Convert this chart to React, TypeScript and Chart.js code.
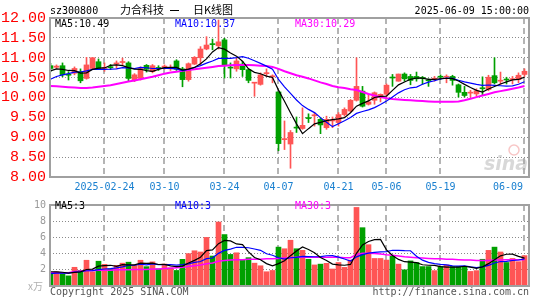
import React, { useEffect, useRef } from 'react';
import { Chart, registerables } from 'chart.js';

Chart.register(...registerables);

// ---------- data ----------
const dates = [
  '02-11','02-12','02-13','02-14','02-17','02-18','02-19','02-20','02-21','02-24',
  '02-25','02-26','02-27','02-28','03-03','03-04','03-05','03-06','03-07','03-10',
  '03-11','03-12','03-13','03-14','03-17','03-18','03-19','03-20','03-21','03-24',
  '03-25','03-26','03-27','03-28','03-31','04-01','04-02','04-03','04-07','04-08',
  '04-09','04-10','04-11','04-14','04-15','04-16','04-17','04-18','04-21','04-22',
  '04-23','04-24','04-25','04-28','04-29','04-30','05-06','05-07','05-08','05-09',
  '05-12','05-13','05-14','05-15','05-16','05-19','05-20','05-21','05-22','05-23',
  '05-26','05-27','05-28','05-29','05-30','06-03','06-04','06-05','06-06','06-09',
];

const openP = [
  10.80,10.76,10.80,10.57,10.61,10.65,10.48,10.73,10.90,10.73,
  10.76,10.84,10.88,10.87,10.44,10.48,10.81,10.65,10.74,10.75,
  10.72,10.92,10.72,10.45,10.84,11.00,11.22,11.35,11.30,11.45,
  10.76,10.72,10.84,10.70,10.36,10.33,10.60,10.52,10.14,8.94,
  8.83,9.25,9.22,9.49,9.54,9.45,9.24,9.41,9.37,9.57,
  9.66,9.93,10.16,9.83,9.93,10.01,10.08,10.50,10.41,10.59,
  10.53,10.53,10.50,10.44,10.46,10.52,10.51,10.53,10.32,10.13,
  10.11,10.09,10.23,10.20,10.55,10.41,10.45,10.45,10.45,10.58,
];
const highP = [
  10.86,10.82,10.87,10.65,10.77,10.72,11.01,11.01,10.97,10.87,
  10.83,10.92,10.99,10.90,10.60,10.77,10.83,10.83,10.80,10.82,
  10.82,10.95,10.76,10.87,11.03,11.28,11.53,11.47,11.95,11.49,
  10.87,10.99,10.91,10.72,10.37,10.62,10.72,10.57,10.14,9.41,
  9.17,9.51,9.74,9.59,9.62,9.49,9.53,9.51,9.62,9.74,
  9.95,11.00,10.28,10.08,10.14,10.09,10.34,10.58,10.59,10.62,
  10.58,10.64,10.53,10.47,10.53,10.57,10.57,10.56,10.34,10.28,
  10.18,10.22,10.52,10.56,11.00,10.64,10.51,10.53,10.62,10.72,
];
const lowP = [
  10.65,10.73,10.52,10.44,10.57,10.37,10.46,10.71,10.70,10.66,
  10.70,10.74,10.82,10.42,10.40,10.44,10.64,10.62,10.68,10.71,
  10.68,10.68,10.27,10.41,10.83,10.82,11.20,11.20,11.22,10.49,
  10.49,10.66,10.53,10.37,10.03,10.31,10.53,10.37,8.66,8.69,
  8.22,9.12,9.20,9.37,9.28,9.09,9.20,9.24,9.28,9.53,
  9.64,9.91,9.76,9.81,9.83,9.89,10.03,10.28,10.41,10.41,
  10.32,10.41,10.33,10.28,10.41,10.45,10.37,10.31,10.01,10.01,
  10.01,10.03,10.06,10.17,10.34,10.33,10.34,10.34,10.37,10.53,
];
const closeP = [
  10.73,10.79,10.57,10.56,10.73,10.42,10.82,11.00,10.73,10.75,
  10.75,10.87,10.90,10.48,10.57,10.73,10.71,10.80,10.73,10.79,
  10.76,10.71,10.45,10.85,11.01,11.22,11.32,11.33,11.40,10.81,
  10.74,10.92,10.70,10.43,10.37,10.57,10.62,10.53,8.84,8.96,
  9.12,9.23,9.30,9.47,9.56,9.31,9.45,9.43,9.57,9.70,
  9.93,10.28,9.78,9.89,10.12,10.08,10.31,10.49,10.59,10.47,
  10.43,10.47,10.48,10.42,10.48,10.51,10.53,10.43,10.13,10.05,
  10.12,10.17,10.22,10.51,10.37,10.43,10.44,10.47,10.56,10.66,
];
// closes of the 9 sessions before the window (for the moving averages)
const priorClose = [10.10,10.18,10.25,10.32,10.40,10.55,10.62,10.70,10.75];

const priceMA30 = [
  10.29,10.28,10.27,10.26,10.25,10.24,10.24,10.25,10.27,10.29,
  10.31,10.34,10.37,10.40,10.43,10.46,10.49,10.52,10.56,10.60,
  10.63,10.65,10.67,10.69,10.71,10.73,10.75,10.77,10.79,10.80,
  10.81,10.82,10.82,10.82,10.81,10.80,10.79,10.77,10.72,10.66,
  10.61,10.56,10.52,10.48,10.43,10.38,10.34,10.29,10.26,10.24,
  10.21,10.19,10.14,10.09,10.05,10.01,9.98,9.96,9.95,9.94,
  9.93,9.92,9.91,9.90,9.89,9.89,9.89,9.89,9.90,9.93,
  9.97,10.01,10.05,10.09,10.13,10.16,10.19,10.22,10.25,10.29,
];

// volume, 万手
const volume = [
  1.53,1.76,1.53,1.25,2.31,1.92,3.18,1.76,3.06,2.67,
  2.12,2.55,2.82,2.94,2.59,3.18,2.39,2.98,2.12,2.71,
  2.24,1.92,3.29,4.00,4.35,4.20,6.00,3.70,7.90,6.35,
  3.90,4.10,3.25,3.50,2.82,2.50,1.76,1.92,4.80,4.60,
  5.65,4.60,4.40,3.30,2.60,2.70,2.80,2.10,2.90,2.30,
  3.20,9.70,7.20,5.10,3.40,3.40,3.20,3.70,2.70,2.00,
  3.10,2.90,2.40,2.40,1.90,2.40,2.60,2.40,2.40,2.40,
  1.80,1.90,3.30,4.40,4.80,4.20,2.90,3.40,3.00,3.75,
];
const priorVolume = [1.2,1.4,1.3,1.2,1.4,1.9,1.7,1.8,1.87];

const volumeMA30 = [
  1.65,1.65,1.65,1.65,1.80,1.85,1.90,1.90,1.95,1.95,
  1.95,2.00,2.00,2.00,2.05,2.05,2.05,2.10,2.10,2.15,
  2.20,2.25,2.30,2.40,2.50,2.60,2.75,2.85,3.05,3.15,
  3.20,3.25,3.25,3.30,3.30,3.30,3.35,3.35,3.40,3.45,
  3.50,3.55,3.55,3.55,3.55,3.55,3.55,3.55,3.55,3.50,
  3.50,3.90,4.05,4.05,4.00,3.95,3.85,3.80,3.70,3.60,
  3.55,3.50,3.45,3.40,3.35,3.35,3.30,3.30,3.25,3.20,
  3.20,3.15,3.15,3.15,3.20,3.20,3.25,3.25,3.25,3.25,
];

const tickDates = ['02-24','03-10','03-24','04-07','04-21','05-06','05-19','06-09'];
const tickLabels = ['2025-02-24','03-10','03-24','04-07','04-21','05-06','05-19','06-09'];
const priceTicks = [8, 8.5, 9, 9.5, 10, 10.5, 11, 11.5, 12];
const volumeTicks = [0, 2, 4, 6, 8, 10];

const stockCode = 'sz300800';
const stockName = '力合科技';
const chartTitle = '日K线图';
const timestamp = '2025-06-09 15:00:00';
const priceMALabels = ['MA5:10.49', 'MA10:10.37', 'MA30:10.29'];
const volumeMALabels = ['MA5:3', 'MA10:3', 'MA30:3'];
const volumeUnit = 'x万';
const copyright = 'Copyright 2025 SINA.COM';
const siteUrl = 'http://finance.sina.com.cn';

// ---------- helpers ----------
const UP = '#ff5555';
const DOWN = '#00a000';
const MA_COLORS = ['#000000', '#0000ff', '#ff00ff'];
const MONO = '"DejaVu Sans Mono", monospace';
const GRID = '#8a8a8a';

function movingAvg(prior: number[], vals: number[], n: number) {
  const all = prior.concat(vals);
  return vals.map((_, i) => {
    const end = prior.length + i;
    let s = 0;
    for (let k = end - n + 1; k <= end; k++) s += all[k];
    return s / n;
  });
}

const X_MIN = -1 / 12;
const X_MAX = X_MIN + 479 / 6;
const tickIdx = tickDates.map((d) => dates.indexOf(d));
const candleColors = closeP.map((c, i) => (c >= openP[i] ? UP : DOWN));
const xy = (arr: number[]) => arr.map((v, i) => ({ x: i, y: v }));

function lineDs(label: string, data: number[], color: string, width: number) {
  return {
    type: 'line' as const,
    label,
    data: xy(data),
    borderColor: color,
    borderWidth: width,
    pointRadius: 0,
    tension: 0,
    fill: false,
    order: 0,
  };
}

function yAxis(min: number, max: number, ticks: number[], tickOpts: any) {
  return {
    type: 'linear',
    min,
    max,
    grid: {
      display: true,
      drawTicks: false,
      lineWidth: 1,
      color: (c: any) =>
        c.tick && (c.tick.value === min || c.tick.value === max) ? 'rgba(0,0,0,0)' : GRID,
    },
    border: { display: false, dash: [1, 2] },
    afterBuildTicks: (s: any) => {
      s.ticks = ticks.map((v) => ({ value: v }));
    },
    afterFit: (s: any) => {
      s.width = 50;
    },
    ticks: { autoSkip: false, padding: 4, ...tickOpts },
  };
}

function framePlugin(drawText: (chart: any) => void) {
  return {
    id: 'sinaFrame',
    beforeDatasetsDraw(chart: any) {
      const { ctx, chartArea: a, scales } = chart;
      ctx.save();
      ctx.setLineDash([6, 4]);
      ctx.lineWidth = 2;
      ctx.strokeStyle = '#b4b4b4';
      for (const i of tickIdx) {
        const x = Math.floor(scales.x.getPixelForValue(i));
        ctx.beginPath();
        ctx.moveTo(x, a.top);
        ctx.lineTo(x, a.bottom);
        ctx.stroke();
      }
      ctx.restore();
    },
    afterDatasetsDraw(chart: any) {
      const { ctx, chartArea: a } = chart;
      ctx.save();
      ctx.strokeStyle = '#a0a0a0';
      ctx.lineWidth = 2;
      ctx.setLineDash([]);
      ctx.strokeRect(a.left, a.top, a.right - a.left, a.bottom - a.top);
      ctx.restore();
    },
    afterDraw(chart: any) {
      chart.ctx.save();
      drawText(chart);
      chart.ctx.restore();
    },
  };
}

export default function App() {
  const priceRef = useRef<HTMLCanvasElement>(null);
  const volRef = useRef<HTMLCanvasElement>(null);

  useEffect(() => {
    document.body.style.margin = '0';
    const ma5 = movingAvg(priorClose, closeP, 5);
    const ma10 = movingAvg(priorClose, closeP, 10);
    const vma5 = movingAvg(priorVolume, volume, 5);
    const vma10 = movingAvg(priorVolume, volume, 10);

    const xScale = {
      type: 'linear' as const,
      min: X_MIN,
      max: X_MAX,
      offset: false,
      display: false,
      grid: { display: false },
    };

    const priceText = (chart: any) => {
      const { ctx, chartArea: a, scales } = chart;
      ctx.textBaseline = 'middle';
      ctx.font = `10px ${MONO}`;
      ctx.fillStyle = '#000';
      ctx.textAlign = 'left';
      ctx.fillText(stockCode, 50, 11);
      ctx.textAlign = 'right';
      ctx.fillText(timestamp, 529, 11);
      ctx.font = '11px "Noto Sans CJK SC"';
      ctx.textAlign = 'left';
      ctx.fillText(stockName, 120, 10);
      ctx.fillText(chartTitle, 193, 10);
      ctx.fillRect(170, 10, 9, 1);
      // MA labels
      ctx.font = `10px ${MONO}`;
      const mx = [55, 175, 295];
      priceMALabels.forEach((t, k) => {
        ctx.fillStyle = MA_COLORS[k];
        ctx.fillText(t, mx[k], 24);
      });
      // date labels
      ctx.fillStyle = '#1a80d0';
      ctx.textAlign = 'center';
      tickIdx.forEach((i, k) => {
        const t = tickLabels[k];
        const w = ctx.measureText(t).width;
        let x = scales.x.getPixelForValue(i);
        x = Math.min(x, a.right - 6 - w / 2);
        x = Math.max(x, a.left + w / 2);
        ctx.fillText(t, x, 187);
      });
      // watermark
      ctx.globalAlpha = 0.45;
      ctx.strokeStyle = '#f08080';
      ctx.lineWidth = 1.5;
      ctx.beginPath();
      ctx.arc(514, 150, 5, 0, Math.PI * 2);
      ctx.stroke();
      ctx.fillStyle = '#a8a8a8';
      ctx.font = 'italic bold 19px "DejaVu Sans"';
      ctx.textAlign = 'left';
      ctx.fillText('sina', 484, 165);
      ctx.globalAlpha = 1;
    };

    const priceChart = new Chart(priceRef.current as HTMLCanvasElement, {
      type: 'bar',
      data: {
        datasets: [
          lineDs('MA5', ma5, MA_COLORS[0], 1.2),
          lineDs('MA10', ma10, MA_COLORS[1], 1.2),
          lineDs('MA30', priceMA30, MA_COLORS[2], 2),
          {
            type: 'bar' as const,
            label: 'body',
            data: openP.map((o, i) => ({ x: i, y: [o, closeP[i]] })) as any,
            backgroundColor: candleColors,
            barThickness: 5,
            grouped: false,
            minBarLength: 1,
            order: 1,
          },
          {
            type: 'bar' as const,
            label: 'wick',
            data: lowP.map((l, i) => ({ x: i, y: [l, highP[i]] })) as any,
            backgroundColor: candleColors,
            barThickness: 1,
            grouped: false,
            order: 2,
          },
        ],
      },
      options: {
        animation: false,
        responsive: false,
        maintainAspectRatio: false,
        events: [],
        layout: { padding: { top: 18, right: 16, bottom: 18, left: 0 } },
        plugins: { legend: { display: false }, tooltip: { enabled: false } },
        scales: {
          x: xScale,
          y: yAxis(8, 12, priceTicks, {
            color: '#ff0000',
            font: { family: 'Liberation Mono', size: 15 },
            callback: (v: any) => Number(v).toFixed(2),
          }),
        },
      },
      plugins: [framePlugin(priceText)],
    } as any);

    const volText = (chart: any) => {
      const { ctx } = chart;
      ctx.textBaseline = 'middle';
      ctx.font = `10px ${MONO}`;
      ctx.textAlign = 'left';
      const mx = [55, 175, 295];
      volumeMALabels.forEach((t, k) => {
        ctx.fillStyle = MA_COLORS[k];
        ctx.fillText(t, mx[k], 11);
      });
      ctx.fillStyle = '#b0b0b0';
      ctx.font = '10px "Noto Sans CJK SC"';
      ctx.fillText(volumeUnit, 28, 91);
      ctx.font = `10px ${MONO}`;
      ctx.fillStyle = '#555';
      ctx.fillText(copyright, 50, 97);
      ctx.textAlign = 'right';
      ctx.fillText(siteUrl, 529, 97);
    };

    const volChart = new Chart(volRef.current as HTMLCanvasElement, {
      type: 'bar',
      data: {
        datasets: [
          lineDs('MA5', vma5, MA_COLORS[0], 1.2),
          lineDs('MA10', vma10, MA_COLORS[1], 1.2),
          lineDs('MA30', volumeMA30, MA_COLORS[2], 1.5),
          {
            type: 'bar' as const,
            label: 'volume',
            data: xy(volume),
            backgroundColor: candleColors,
            barThickness: 5,
            grouped: false,
            order: 1,
          },
        ],
      },
      options: {
        animation: false,
        responsive: false,
        maintainAspectRatio: false,
        events: [],
        layout: { padding: { top: 7, right: 16, bottom: 14, left: 0 } },
        plugins: { legend: { display: false }, tooltip: { enabled: false } },
        scales: {
          x: xScale,
          y: yAxis(0, 10, volumeTicks, {
            color: '#999999',
            font: { family: 'DejaVu Sans Mono', size: 10 },
            callback: (v: any) => (Number(v) === 0 ? '' : String(v)),
          }),
        },
      },
      plugins: [framePlugin(volText)],
    } as any);

    return () => {
      priceChart.destroy();
      volChart.destroy();
    };
  }, []);

  return (
    <div style={{ position: 'relative', width: 545, height: 300, background: '#fff' }}>
      <canvas
        ref={priceRef}
        width={545}
        height={195}
        style={{ position: 'absolute', left: 0, top: 0, width: 545, height: 195 }}
      />
      <canvas
        ref={volRef}
        width={545}
        height={105}
        style={{ position: 'absolute', left: 0, top: 195, width: 545, height: 105 }}
      />
    </div>
  );
}
